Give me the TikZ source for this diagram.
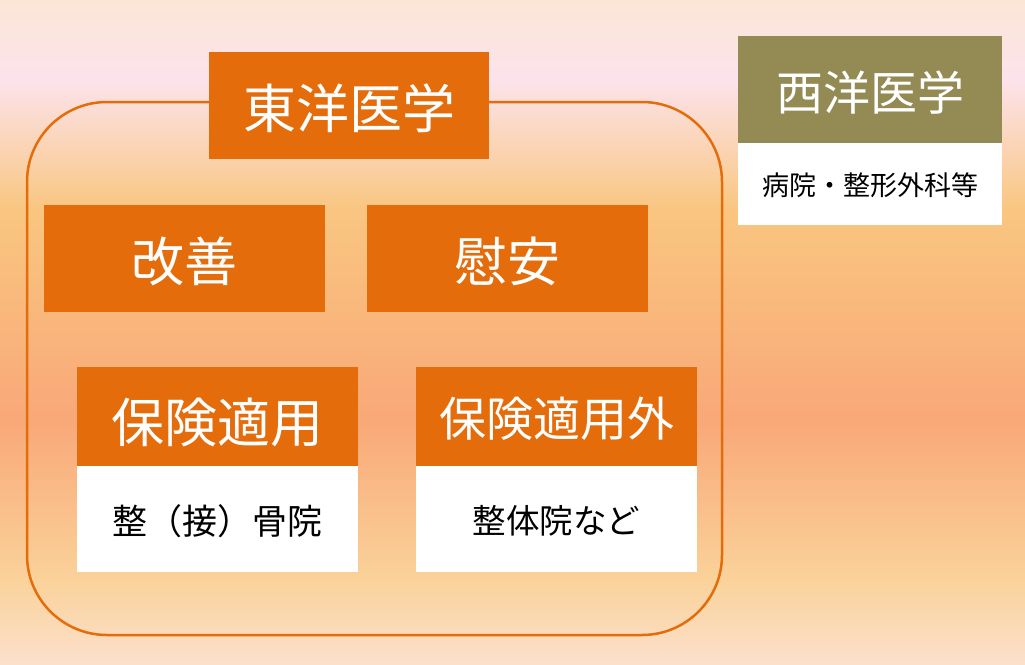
\documentclass[tikz,border=0pt]{standalone}
\usepackage{fontspec}
\newfontfamily\jp{Noto Sans CJK JP}
\definecolor{bgA}{HTML}{FBE6D6}
\definecolor{bgB}{HTML}{FCE3EC}
\definecolor{bgC}{HTML}{F9C680}
\definecolor{bgD}{HTML}{F9A878}
\definecolor{bgE}{HTML}{FAD29A}
\definecolor{bgF}{HTML}{FBE0CC}
\definecolor{eorange}{HTML}{E46C0A}
\definecolor{olive}{HTML}{948A54}
\newcommand{\dn}[2]{\raisebox{-#1pt}[\height][\depth]{#2}}
\tikzset{
  boxbase/.style={rectangle, inner sep=0pt, minimum width=281, minimum height=107, font=\jp},
  obox/.style={boxbase, fill=eorange, text=white},
  wbox/.style={boxbase, fill=white, text=black},
  gbox/.style={boxbase, fill=olive, text=white},
  big/.style={font=\jp\fontsize{53}{60}\selectfont},
  mid/.style={font=\jp\fontsize{47}{54}\selectfont},
  frame/.style={rectangle, draw=eorange, line width=2.5pt, rounded corners=80pt, inner sep=0pt}
}
\begin{document}
\begin{tikzpicture}[x=1pt,y=-1pt]
\useasboundingbox (0,0) rectangle (1025,664);
% background gradient
\shade[top color=bgA, bottom color=bgB] (0,0) rectangle (1025,80.5);
\shade[top color=bgB, bottom color=bgC] (0,80) rectangle (1025,210.5);
\shade[top color=bgC, bottom color=bgD] (0,210) rectangle (1025,420.5);
\shade[top color=bgD, bottom color=bgE] (0,420) rectangle (1025,580.5);
\shade[top color=bgE, bottom color=bgF] (0,580) rectangle (1025,664);
% frame
\node[frame, minimum width=695, minimum height=533] (frame) at (374.5,368.5) {};
% east title
\node[obox, minimum width=280, minimum height=107, big] (east) at (349,105.5) {\dn{3}{東洋医学}};
% row 1
\node[obox, big] (kaizen) at (184.5,258.5) {\dn{3}{改善}};
\node[obox, big] (ian) at (507.5,258.5) {\dn{3}{慰安}};
% row 2
\node[obox, minimum height=99, big] (hoken) at (217.5,416.5) {\dn{6}{保険適用}};
\node[wbox, minimum height=106, font=\jp\fontsize{35}{40}\selectfont] (sekkotsu) at (217.5,519) {\dn{2}{整（接）骨院}};
\node[obox, minimum height=99, mid] (hokengai) at (556.5,416.5) {\dn{2}{保険適用外}};
\node[wbox, minimum height=106, font=\jp\fontsize{33.5}{40}\selectfont] (seitai) at (556.5,519) {\dn{2}{整体院など}};
% west
\node[gbox, minimum width=264, minimum height=107, mid] (west) at (870,89.5) {\dn{3}{西洋医学}};
\node[wbox, minimum width=264, minimum height=82, font=\jp\fontsize{27}{32}\selectfont] (byoin) at (870,184) {\dn{1}{病院・整形外科等}};
\end{tikzpicture}
\end{document}
